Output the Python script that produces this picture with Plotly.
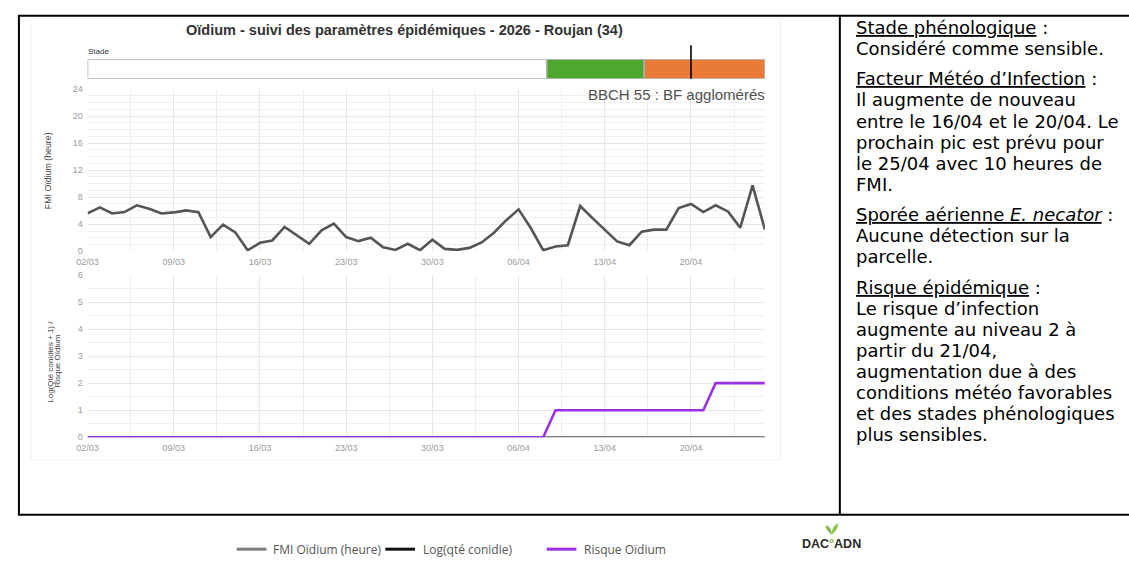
import plotly.graph_objects as go
import pandas as pd

# ---------------- data ----------------
dates = pd.date_range("2026-03-02", periods=56, freq="D")

fmi_hours = [5.6, 6.5, 5.6, 5.8, 6.8, 6.3, 5.6, 5.75, 6.05, 5.8,
             2.1, 3.95, 2.8, 0.15, 1.25, 1.6, 3.6, 2.3, 1.1, 3.1,
             4.1, 2.1, 1.5, 2.0, 0.6, 0.2, 1.1, 0.15, 1.7, 0.35,
             0.2, 0.5, 1.3, 2.75, 4.6, 6.2, 3.4, 0.15, 0.7, 0.9,
             6.7, 4.9, 3.1, 1.45, 0.9, 2.9, 3.2, 3.2, 6.4, 7.0,
             5.8, 6.8, 5.9, 3.5, 9.75, 3.2]

log_conidia = [0, 0, 0, 0, 0, 0, 0, 0, 0, 0,
               0, 0, 0, 0, 0, 0, 0, 0, 0, 0,
               0, 0, 0, 0, 0, 0, 0, 0, 0, 0,
               0, 0, 0, 0, 0, 0, 0, 0, 0, 0,
               0, 0, 0, 0, 0, 0, 0, 0, 0, 0,
               0, 0, 0, 0, 0, 0]

risk_level = [0, 0, 0, 0, 0, 0, 0, 0, 0, 0,
              0, 0, 0, 0, 0, 0, 0, 0, 0, 0,
              0, 0, 0, 0, 0, 0, 0, 0, 0, 0,
              0, 0, 0, 0, 0, 0, 0, 0, 1, 1,
              1, 1, 1, 1, 1, 1, 1, 1, 1, 1,
              1, 2, 2, 2, 2, 2]

stage_starts = ["2026-03-02", "2026-04-08 07:00", "2026-04-16 05:00"]
stage_ends = ["2026-04-08 07:00", "2026-04-16 05:00", "2026-04-26"]
stage_colors = ["#ffffff", "#4ea72e", "#e97b37"]
today_marker = "2026-04-20"
stage_label = "BBCH 55 : BF agglomérés"

title_text = "Oïdium - suivi des paramètres épidémiques - 2026 - Roujan (34)"

panel_paragraphs = [
    ["<u>Stade phénologique</u> :", "Considéré comme sensible."],
    ["<u>Facteur Météo d’Infection</u> :", "Il augmente de nouveau",
     "entre le 16/04 et le 20/04. Le", "prochain pic est prévu pour",
     "le 25/04 avec 10 heures de", "FMI."],
    ["<u>Sporée aérienne <i>E. necator</i></u> :", "Aucune détection sur la",
     "parcelle."],
    ["<u>Risque épidémique</u> :", "Le risque d’infection",
     "augmente au niveau 2 à", "partir du 21/04,", "augmentation due à des",
     "conditions météo favorables", "et des stades phénologiques",
     "plus sensibles."],
]

legend_names = ["FMI Oïdium (heure)", "Log(qté conidie)", "Risque Oïdium"]
legend_colors = ["#7f7f7f", "#111111", "#9b30e0"]

# ---------------- layout helpers ----------------
W, H = 1129, 564
def fx(x):
    return x / W
def fy(y):
    return 1 - y / H

X_DOM = [fx(77.3), fx(761.3)]
x_range = [dates[0], dates[-1]]
stage_dur_ms = [(pd.Timestamp(e) - pd.Timestamp(s)).total_seconds() * 1000
                for s, e in zip(stage_starts, stage_ends)]

fig = go.Figure()

# stage bar
fig.add_trace(go.Bar(
    y=["Stade"] * len(stage_starts), x=stage_dur_ms, base=stage_starts,
    orientation="h", width=1, marker=dict(color=stage_colors,
                                         line=dict(color="#b0b0b0", width=1.5)),
    xaxis="x3", yaxis="y3", cliponaxis=False, hoverinfo="skip"))

# FMI line
fig.add_trace(go.Scatter(x=dates, y=fmi_hours, mode="lines",
                         line=dict(color="#555555", width=2.6),
                         xaxis="x", yaxis="y", name=legend_names[0]))
# log conidia & risk
fig.add_trace(go.Scatter(x=dates, y=log_conidia, mode="lines",
                         line=dict(color="#555555", width=2),
                         xaxis="x2", yaxis="y2", name=legend_names[1]))
fig.add_trace(go.Scatter(x=dates, y=risk_level, mode="lines",
                         line=dict(color="#9b30e0", width=2.6),
                         xaxis="x2", yaxis="y2", name=legend_names[2]))

tickfont = dict(family="Liberation Sans, Arial", size=9, color="#9a9a9a")
xcommon = dict(type="date", range=x_range, tickformat="%d/%m",
               tick0="2026-03-02", dtick=7 * 86400000,
               showgrid=True, gridcolor="#e6e6e6", gridwidth=1,
               minor=dict(dtick=3.5 * 86400000, tick0="2026-03-02",
                          showgrid=True, gridcolor="#eeeeee"),
               ticks="outside", ticklen=2, tickcolor="rgba(0,0,0,0)",
               showline=False, zeroline=False, tickfont=tickfont,
               domain=X_DOM)

fig.update_layout(
    width=W, height=H, margin=dict(l=0, r=0, t=0, b=0),
    paper_bgcolor="white", plot_bgcolor="white", showlegend=False,
    barmode="overlay",
    xaxis=dict(anchor="y", **xcommon),
    yaxis=dict(domain=[fy(250.7), fy(85.7)], range=[0, 24], dtick=4, tick0=0,
               showgrid=True, gridcolor="#e6e6e6",
               minor=dict(dtick=1, showgrid=True, gridcolor="#efefef"),
               zeroline=False, showline=False, tickfont=tickfont,
               ticks="outside", ticklen=2, tickcolor="rgba(0,0,0,0)",
               anchor="x"),
    xaxis2=dict(anchor="y2", **xcommon),
    yaxis2=dict(domain=[fy(440), fy(275)], range=[0, 6], dtick=1, tick0=0,
                showgrid=True, gridcolor="#e6e6e6",
                minor=dict(dtick=0.5, showgrid=True, gridcolor="#efefef"),
                zeroline=False, showline=False, tickfont=tickfont,
                ticks="outside", ticklen=2, tickcolor="rgba(0,0,0,0)",
                anchor="x2"),
    xaxis3=dict(type="date", range=x_range, domain=X_DOM, anchor="y3",
                showgrid=False, showticklabels=False, zeroline=False,
                showline=False),
    yaxis3=dict(domain=[fy(75), fy(55.3)], range=[-0.5, 0.5],
                showgrid=False, showticklabels=False, zeroline=False,
                showline=False, anchor="x3", fixedrange=True),
)

shapes = []
# today marker on stage bar
shapes.append(dict(type="line", xref="x3", yref="paper", x0=today_marker,
                   x1=today_marker, y0=fy(75), y1=fy(41),
                   line=dict(color="#000000", width=1.6)))
# faint chart frame
shapes.append(dict(type="rect", xref="paper", yref="paper",
                   x0=fx(20), x1=fx(777), y0=fy(463), y1=fy(14),
                   line=dict(color="#eeeeee", width=1), layer="below"))
# table borders
blk = dict(color="#000000", width=2)
shapes += [
    dict(type="line", xref="paper", yref="paper", x0=fx(7), x1=1, y0=fy(11), y1=fy(11), line=blk),
    dict(type="line", xref="paper", yref="paper", x0=fx(7), x1=1, y0=fy(519), y1=fy(519), line=blk),
    dict(type="line", xref="paper", yref="paper", x0=fx(8), x1=fx(8), y0=fy(11), y1=fy(519), line=blk),
    dict(type="line", xref="paper", yref="paper", x0=fx(837), x1=fx(837), y0=fy(11), y1=fy(519), line=blk),
]
# legend lines
legend_line_x = [(228, 258), (378, 408), (541, 571)]
for (a, b), c in zip(legend_line_x, legend_colors):
    shapes.append(dict(type="line", xref="paper", yref="paper", x0=fx(a), x1=fx(b),
                       y0=fy(554), y1=fy(554), line=dict(color=c, width=3)))
# logo sprout
shapes.append(dict(type="path", xref="paper", yref="paper",
                   path=f"M {fx(828.5)} {fy(539)} Q {fx(823)} {fy(534)} {fx(823)} {fy(530)} "
                        f"Q {fx(828)} {fy(531)} {fx(828.5)} {fy(539)} Z",
                   fillcolor="#7cb342", line=dict(color="#7cb342", width=0.5)))
shapes.append(dict(type="path", xref="paper", yref="paper",
                   path=f"M {fx(829)} {fy(539)} Q {fx(835)} {fy(534)} {fx(835)} {fy(528)} "
                        f"Q {fx(829)} {fy(530)} {fx(829)} {fy(539)} Z",
                   fillcolor="#8bc34a", line=dict(color="#8bc34a", width=0.5)))
fig.update_layout(shapes=shapes)

ann = []
ann.append(dict(text=f"<b>{title_text}</b>", x=fx(397.5), y=fy(25), xref="paper",
                yref="paper", showarrow=False, xanchor="center", yanchor="middle",
                font=dict(family="Liberation Sans, Arial", size=14.5, color="#333333")))
ann.append(dict(text="Stade", x=fx(76), y=fy(47.5), xref="paper", yref="paper",
                showarrow=False, xanchor="left", yanchor="middle",
                font=dict(family="Liberation Sans, Arial", size=8, color="#333333")))
ann.append(dict(text=stage_label, x=fx(763), y=fy(91.5), xref="paper", yref="paper",
                showarrow=False, xanchor="right", yanchor="middle",
                font=dict(family="Liberation Sans, Arial", size=15, color="#505050")))
ann.append(dict(text="FMI Oïdium (heure)", x=fx(37.5), y=fy(169), xref="paper",
                yref="paper", showarrow=False, textangle=-90,
                xanchor="center", yanchor="middle",
                font=dict(family="Liberation Sans, Arial", size=8.8, color="#444444")))
ann.append(dict(text="Log(Qté conidies + 1) /", x=fx(39.5), y=fy(363), xref="paper",
                yref="paper", showarrow=False, textangle=-90,
                xanchor="center", yanchor="middle",
                font=dict(family="Liberation Sans, Arial", size=8, color="#444444")))
ann.append(dict(text="Risque Oïdium", x=fx(47.5), y=fy(363), xref="paper",
                yref="paper", showarrow=False, textangle=-90,
                xanchor="center", yanchor="middle",
                font=dict(family="Liberation Sans, Arial", size=8, color="#444444")))

# right text panel
yline = 22.5
for paragraph in panel_paragraphs:
    for line in paragraph:
        ann.append(dict(text=line, x=fx(851), y=fy(yline), xref="paper", yref="paper",
                        showarrow=False, xanchor="left", yanchor="middle",
                        font=dict(family="DejaVu Sans", size=18, color="#000000")))
        yline += 21.4
    yline += 10.0

# legend texts
legend_text_x = [263, 414, 577]
for name, x0 in zip(legend_names, legend_text_x):
    ann.append(dict(text=name, x=fx(x0), y=fy(554), xref="paper", yref="paper",
                    showarrow=False, xanchor="left", yanchor="middle",
                    font=dict(family="Open Sans", size=12, color="#555555")))
# logo text
ann.append(dict(text="<b>DAC<span style='color:#7cb342'>°</span>ADN</b>", x=fx(829),
                y=fy(549), xref="paper", yref="paper", showarrow=False,
                xanchor="center", yanchor="middle",
                font=dict(family="Liberation Sans Narrow, Liberation Sans", size=12.5,
                          color="#2b2b2b")))
fig.update_layout(annotations=ann)

fig.write_html("out.html", config={"displayModeBar": False},
               post_script="document.body.style.margin='0';"
                           "document.documentElement.style.overflow='hidden';")
